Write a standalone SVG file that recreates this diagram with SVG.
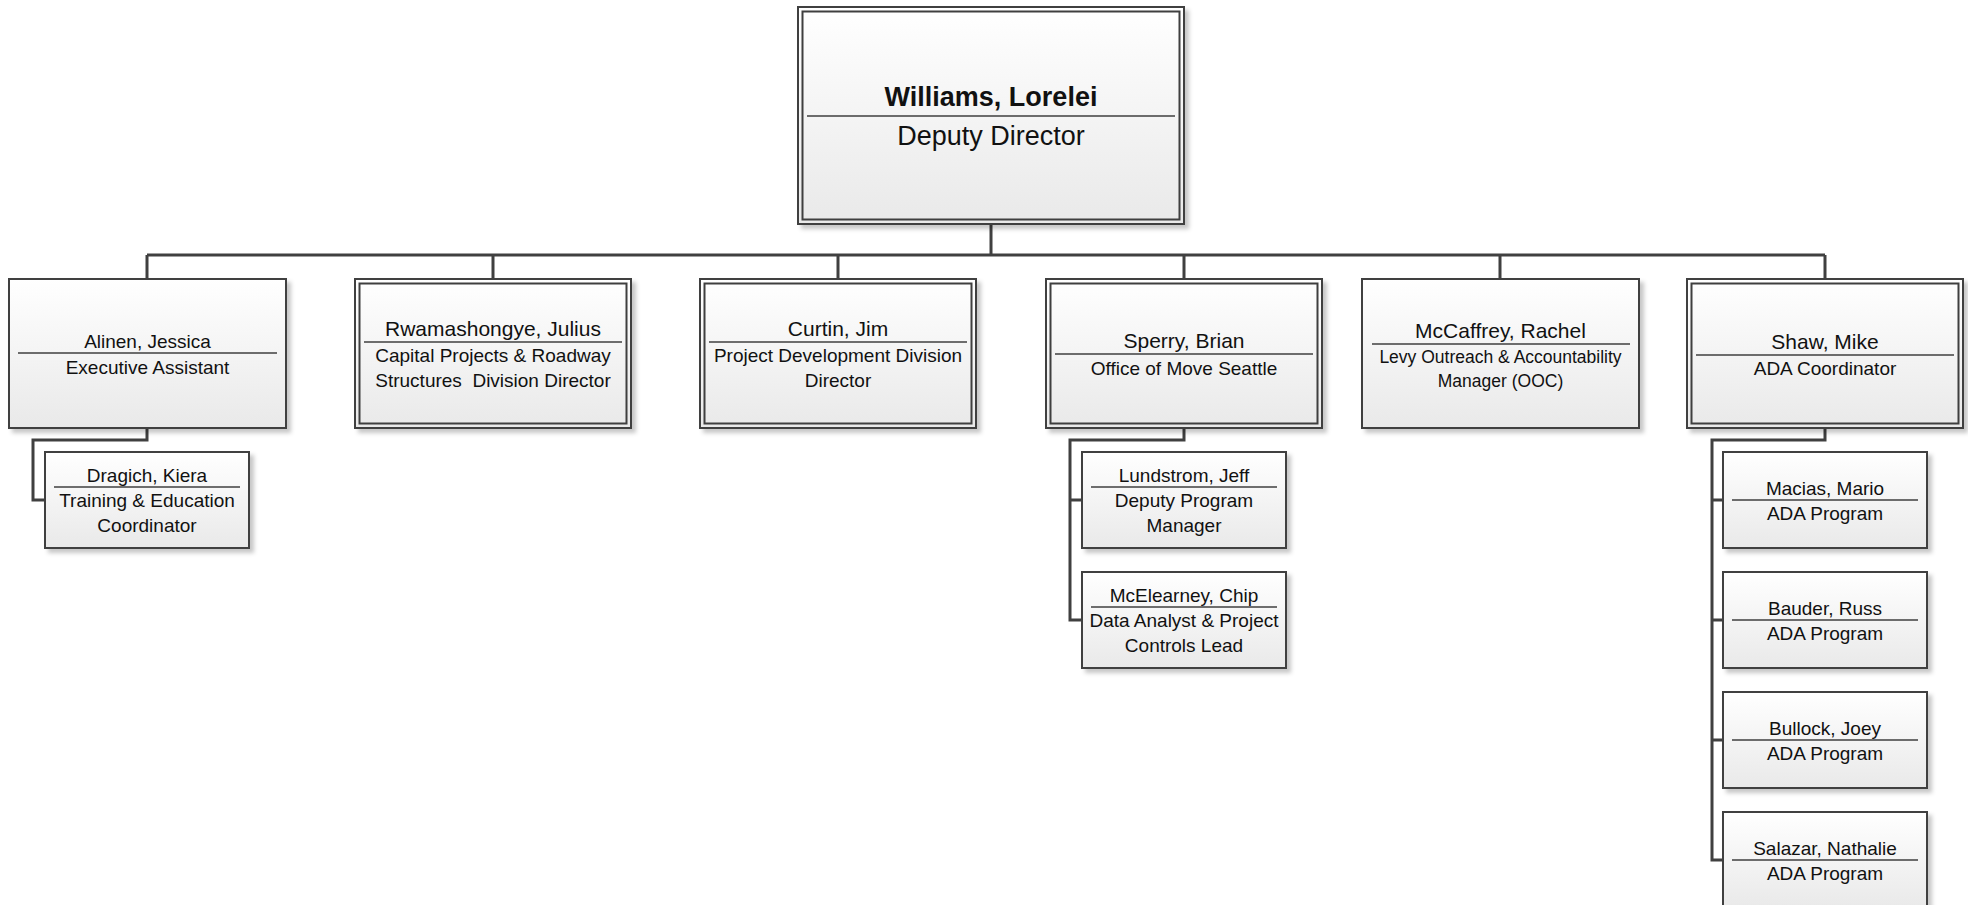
<svg xmlns="http://www.w3.org/2000/svg" width="1968" height="905" viewBox="0 0 1968 905">
<defs>
<linearGradient id="g" x1="0" y1="0" x2="0" y2="1">
<stop offset="0" stop-color="#ffffff"/>
<stop offset="1" stop-color="#e9e9e9"/>
</linearGradient>
<filter id="sh" x="-10%" y="-10%" width="125%" height="130%">
<feDropShadow dx="4" dy="4" stdDeviation="2" flood-color="#000" flood-opacity="0.22"/>
</filter>
<style>
.box{fill:url(#g);stroke:#3f3f3f;stroke-width:2;filter:url(#sh)}
.inner{fill:none;stroke:#3f3f3f;stroke-width:2}
.div{stroke:#3f3f3f;stroke-width:1.6}
.conn{fill:none;stroke:#404040;stroke-width:3}
text{font-family:"Liberation Sans",Arial,sans-serif;fill:#111;text-anchor:middle}
.t{font-size:19px}
.n{font-size:19px}
.nm{font-size:21px}
.sm{font-size:17.5px}
.big{font-size:27px}
.bigb{font-size:27px;font-weight:bold}
</style>
</defs>
<rect width="1968" height="905" fill="#fff"/>

<g id="connectors">
<path class="conn" d="M991,225 V255 M147,255 H1825 M147,255 V279 M493,255 V279 M838,255 V279 M1184,255 V279 M1500,255 V279 M1825,255 V279"/>
<path class="conn" d="M147,428 V440 H33 V500 H45"/>
<path class="conn" d="M1184,428 V440 H1070 V620 H1082 M1070,500 H1082"/>
<path class="conn" d="M1825,428 V440 H1712 V860 H1723 M1712,500 H1723 M1712,620 H1723 M1712,740 H1723"/>
</g>

<g id="williams">
<rect class="box" x="798" y="7" width="386" height="217"/>
<rect class="inner" x="802.5" y="11.5" width="377" height="208"/>
<text class="bigb" x="991" y="106">Williams, Lorelei</text>
<line class="div" x1="807" y1="116" x2="1175" y2="116"/>
<text class="big" x="991" y="145">Deputy Director</text>
</g>

<g id="alinen">
<rect class="box" x="9" y="279" width="277" height="149"/>
<text class="n" x="147.5" y="348">Alinen, Jessica</text>
<line class="div" x1="18" y1="353" x2="277" y2="353"/>
<text class="t" x="147.5" y="374">Executive Assistant</text>
</g>

<g id="rwamashongye">
<rect class="box" x="355" y="279" width="276" height="149"/>
<rect class="inner" x="359.5" y="283.5" width="267" height="140"/>
<text class="nm" x="493" y="336">Rwamashongye, Julius</text>
<line class="div" x1="364" y1="342" x2="622" y2="342"/>
<text class="t" x="493" y="362">Capital Projects &amp; Roadway</text>
<text class="t" x="493" y="387" xml:space="preserve">Structures  Division Director</text>
</g>

<g id="curtin">
<rect class="box" x="700" y="279" width="276" height="149"/>
<rect class="inner" x="704.5" y="283.5" width="267" height="140"/>
<text class="nm" x="838" y="336">Curtin, Jim</text>
<line class="div" x1="709" y1="342" x2="967" y2="342"/>
<text class="t" x="838" y="362">Project Development Division</text>
<text class="t" x="838" y="387">Director</text>
</g>

<g id="sperry">
<rect class="box" x="1046" y="279" width="276" height="149"/>
<rect class="inner" x="1050.5" y="283.5" width="267" height="140"/>
<text class="nm" x="1184" y="348">Sperry, Brian</text>
<line class="div" x1="1055" y1="354" x2="1313" y2="354"/>
<text class="t" x="1184" y="375">Office of Move Seattle</text>
</g>

<g id="mccaffrey">
<rect class="box" x="1362" y="279" width="277" height="149"/>
<text class="nm" x="1500.5" y="338">McCaffrey, Rachel</text>
<line class="div" x1="1372" y1="344" x2="1630" y2="344"/>
<text class="sm" x="1500.5" y="363">Levy Outreach &amp; Accountability</text>
<text class="sm" x="1500.5" y="387">Manager (OOC)</text>
</g>

<g id="shaw">
<rect class="box" x="1687" y="279" width="276" height="149"/>
<rect class="inner" x="1691.5" y="283.5" width="267" height="140"/>
<text class="nm" x="1825" y="349">Shaw, Mike</text>
<line class="div" x1="1696" y1="355" x2="1954" y2="355"/>
<text class="t" x="1825" y="375">ADA Coordinator</text>
</g>

<g id="dragich">
<rect class="box" x="45" y="452" width="204" height="96"/>
<text class="n" x="147" y="482">Dragich, Kiera</text>
<line class="div" x1="54" y1="487" x2="240" y2="487"/>
<text class="t" x="147" y="507">Training &amp; Education</text>
<text class="t" x="147" y="532">Coordinator</text>
</g>

<g id="lundstrom">
<rect class="box" x="1082" y="452" width="204" height="96"/>
<text class="n" x="1184" y="482">Lundstrom, Jeff</text>
<line class="div" x1="1091" y1="487" x2="1277" y2="487"/>
<text class="t" x="1184" y="507">Deputy Program</text>
<text class="t" x="1184" y="532">Manager</text>
</g>

<g id="mcelearney">
<rect class="box" x="1082" y="572" width="204" height="96"/>
<text class="n" x="1184" y="602">McElearney, Chip</text>
<line class="div" x1="1091" y1="607" x2="1277" y2="607"/>
<text class="t" x="1184" y="627">Data Analyst &amp; Project</text>
<text class="t" x="1184" y="652">Controls Lead</text>
</g>

<g id="macias">
<rect class="box" x="1723" y="452" width="204" height="96"/>
<text class="n" x="1825" y="495">Macias, Mario</text>
<line class="div" x1="1732" y1="500" x2="1918" y2="500"/>
<text class="t" x="1825" y="520">ADA Program</text>
</g>

<g id="bauder">
<rect class="box" x="1723" y="572" width="204" height="96"/>
<text class="n" x="1825" y="615">Bauder, Russ</text>
<line class="div" x1="1732" y1="620" x2="1918" y2="620"/>
<text class="t" x="1825" y="640">ADA Program</text>
</g>

<g id="bullock">
<rect class="box" x="1723" y="692" width="204" height="96"/>
<text class="n" x="1825" y="735">Bullock, Joey</text>
<line class="div" x1="1732" y1="740" x2="1918" y2="740"/>
<text class="t" x="1825" y="760">ADA Program</text>
</g>

<g id="salazar">
<rect class="box" x="1723" y="812" width="204" height="96"/>
<text class="n" x="1825" y="855">Salazar, Nathalie</text>
<line class="div" x1="1732" y1="860" x2="1918" y2="860"/>
<text class="t" x="1825" y="880">ADA Program</text>
</g>
</svg>
